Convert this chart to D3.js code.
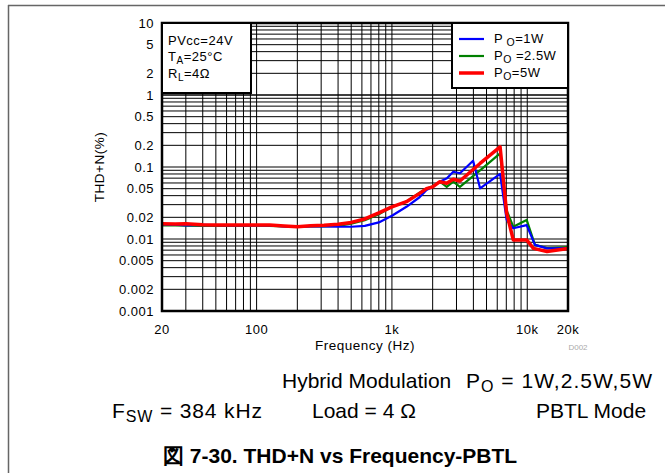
<!DOCTYPE html>
<html>
<head>
<meta charset="utf-8">
<script src="https://cdn.jsdelivr.net/npm/d3@7"></script>
<style>
  html, body { margin: 0; padding: 0; background: #fff; }
  svg { display: block; font-family: "Liberation Sans", Arial, sans-serif; }
</style>
</head>
<body>
<svg id="chart" width="665" height="473"></svg>
<script>
// ---- data ----
const freqBlue = [20,25,30,40,50,63,80,100,125,160,200,250,315,400,500,630,800,920,1000,1280,1600,1800,2000,2260,2550,2840,3180,3980,4480,6300,7040,7880,9900,11400,14000,20000];
const thdBlue  = [0.016,0.0158,0.0155,0.0157,0.0156,0.0155,0.0155,0.0155,0.0155,0.015,0.0148,0.015,0.015,0.0148,0.0148,0.0152,0.017,0.0194,0.021,0.028,0.038,0.048,0.053,0.0625,0.07,0.086,0.082,0.122,0.0506,0.08,0.0184,0.0141,0.0156,0.0083,0.0074,0.0075];

const freqGreen = [20,25,30,40,50,63,80,100,125,160,200,250,315,400,500,630,800,1000,1280,1600,1800,2000,2260,2540,2840,3180,4480,6300,7040,7880,9900,11400,14000,20000];
const thdGreen  = [0.0155,0.0155,0.0153,0.0152,0.0152,0.0153,0.0152,0.0153,0.0152,0.015,0.0147,0.015,0.015,0.0152,0.0163,0.0182,0.022,0.028,0.033,0.044,0.05,0.054,0.0625,0.053,0.0625,0.053,0.09,0.155,0.025,0.0148,0.0184,0.0083,0.0075,0.0077];

const freqRed = [20,25,30,40,50,63,80,100,125,160,200,250,315,400,500,630,800,1000,1280,1600,1800,2000,2260,2540,2840,3180,4480,6300,7040,7880,9900,11100,14000,20000];
const thdRed  = [0.0163,0.0162,0.0163,0.0158,0.0156,0.0157,0.0156,0.0157,0.0156,0.0152,0.0148,0.0153,0.0155,0.016,0.017,0.019,0.023,0.028,0.033,0.043,0.05,0.053,0.0625,0.0595,0.0675,0.064,0.112,0.19,0.023,0.0097,0.0097,0.0074,0.0067,0.0074];

const xTickValues = [20,100,1000,10000,20000];
const xTickLabels = ["20","100","1k","10k","20k"];
const yTickValues = [10,5,2,1,0.5,0.2,0.1,0.05,0.02,0.01,0.005,0.002,0.001];
const yTickLabels = ["10","5","2","1","0.5","0.2","0.1","0.05","0.02","0.01","0.005","0.002","0.001"];

const seriesNames = ["1W","2.5W","5W"];
const seriesColors = ["#0000ff","#008000","#ff0000"];

// ---- layout ----
const svg = d3.select("#chart");
const L = 162, R = 568, T = 23, B = 311;
const x = d3.scaleLog().domain([20,20000]).range([L,R]);
const y = d3.scaleLog().domain([0.001,10]).range([B,T]);
const FS = 13, LS = 0.5;

// frame lines
svg.append("line").attr("x1",8.5).attr("x2",8.5).attr("y1",5).attr("y2",473).attr("stroke","#666").attr("stroke-width",1.5);
svg.append("line").attr("x1",8).attr("x2",665).attr("y1",5.5).attr("y2",5.5).attr("stroke","#666").attr("stroke-width",1.5);

// grid
const xGrid = [];
[10,100,1000,10000].forEach(d => { for (let m=1;m<=9;m++){ const v=m*d; if (v>20 && v<20000) xGrid.push(v);} });
const yGrid = [];
[0.001,0.01,0.1,1].forEach(d => { for (let m=1;m<=9;m++){ const v=m*d; if (v>0.001 && v<10) yGrid.push(v);} });
yGrid.push(1);

const g = svg.append("g");
g.selectAll(".xg").data(xGrid).enter().append("line")
  .attr("x1",d=>x(d)).attr("x2",d=>x(d)).attr("y1",T).attr("y2",B)
  .attr("stroke","#000").attr("stroke-width",1);
g.selectAll(".yg").data(yGrid).enter().append("line")
  .attr("x1",L).attr("x2",R).attr("y1",d=>y(d)).attr("y2",d=>y(d))
  .attr("stroke","#000").attr("stroke-width",1);

// curves
const line = d3.line().x(d=>x(d[0])).y(d=>y(d[1]));
const series = [
  {f:freqGreen, v:thdGreen, c:seriesColors[1], w:2.2},
  {f:freqBlue, v:thdBlue, c:seriesColors[0], w:2.2},
  {f:freqRed, v:thdRed, c:seriesColors[2], w:3.5}
];
series.forEach(s => {
  svg.append("path").datum(s.f.map((f,i)=>[f,s.v[i]]))
    .attr("d",line).attr("fill","none").attr("stroke",s.c)
    .attr("stroke-width",s.w).attr("stroke-linejoin","round");
});

// plot border
svg.append("rect").attr("x",L).attr("y",T).attr("width",R-L).attr("height",B-T)
  .attr("fill","none").attr("stroke","#000").attr("stroke-width",2.5);

// annotation box
svg.append("rect").attr("x",L).attr("y",T).attr("width",251-L).attr("height",93-T)
  .attr("fill","#fff").attr("stroke","#000").attr("stroke-width",2);
const ann = svg.append("g").attr("font-size",FS).attr("letter-spacing",LS).attr("fill","#000");
ann.append("text").attr("x",168).attr("y",45).text("PVcc=24V");
const t2 = ann.append("text").attr("x",168).attr("y",61);
t2.append("tspan").text("T");
t2.append("tspan").attr("dy",3).attr("font-size",10).text("A");
t2.append("tspan").attr("dy",-3).text("=25°C");
const t3 = ann.append("text").attr("x",168).attr("y",78);
t3.append("tspan").text("R");
t3.append("tspan").attr("dy",3).attr("font-size",10).text("L");
t3.append("tspan").attr("dy",-3).text("=4Ω");

// legend box
svg.append("rect").attr("x",452).attr("y",T).attr("width",R-452).attr("height",88-T)
  .attr("fill","#fff").attr("stroke","#000").attr("stroke-width",2);
const legY = [39,56,73];
const legW = [2.2,2.2,3.5];
const legLabels = [["P"," O","=1W"],["P","O"," =2.5W"],["P","O","=5W"]];
seriesNames.forEach((n,i) => {
  svg.append("line").attr("x1",459).attr("x2",484).attr("y1",legY[i]).attr("y2",legY[i])
    .attr("stroke",seriesColors[i]).attr("stroke-width",legW[i]);
  const t = svg.append("text").attr("x",494).attr("y",legY[i]+4).attr("font-size",FS).attr("letter-spacing",LS);
  t.append("tspan").text(legLabels[i][0]);
  t.append("tspan").attr("dy",3).attr("font-size",10.5).text(legLabels[i][1]);
  t.append("tspan").attr("dy",-3).text(legLabels[i][2]);
});

// tick labels
svg.selectAll(".yl").data(yTickValues).enter().append("text")
  .attr("x",154).attr("y",d=>y(d)).attr("dy","0.35em").attr("text-anchor","end")
  .attr("font-size",FS).attr("letter-spacing",LS).text((d,i)=>yTickLabels[i]);
svg.selectAll(".xl").data(xTickValues).enter().append("text")
  .attr("x",d=>x(d)).attr("y",334).attr("text-anchor","middle")
  .attr("font-size",FS).attr("letter-spacing",LS).text((d,i)=>xTickLabels[i]);

// axis titles
svg.append("text").attr("x",(L+R)/2).attr("y",350).attr("text-anchor","middle")
  .attr("font-size",13.5).attr("letter-spacing",LS).text("Frequency (Hz)");
svg.append("text").attr("transform","translate(104,167) rotate(-90)").attr("text-anchor","middle")
  .attr("font-size",13.5).attr("letter-spacing",LS).text("THD+N(%)");
svg.append("text").attr("x",578).attr("y",350).attr("text-anchor","middle")
  .attr("font-size",8).attr("fill","#aaa").text("D002");

// notes
const fs = 21, sfs = 16;
function note(xp, yp){
  return svg.append("text").attr("x",xp).attr("y",yp).attr("font-size",fs);
}
note(282,388).text("Hybrid Modulation");
const n2 = note(466,388).attr("textLength",186).attr("lengthAdjust","spacing");
n2.append("tspan").text("P");
n2.append("tspan").attr("dy",4).attr("font-size",sfs).text("O");
n2.append("tspan").attr("dy",-4).text(" = 1W,2.5W,5W");
const n3 = note(112,418).attr("textLength",150).attr("lengthAdjust","spacing");
n3.append("tspan").text("F");
n3.append("tspan").attr("dy",4).attr("font-size",sfs).text("SW");
n3.append("tspan").attr("dy",-4).text(" = 384 kHz");
note(312,418).text("Load = 4 Ω");
note(536,418).text("PBTL Mode");

svg.append("text").attr("x",163).attr("y",463).attr("font-size",21).attr("font-weight","bold")
  .text("図 7-30. THD+N vs Frequency-PBTL");
</script>
</body>
</html>
